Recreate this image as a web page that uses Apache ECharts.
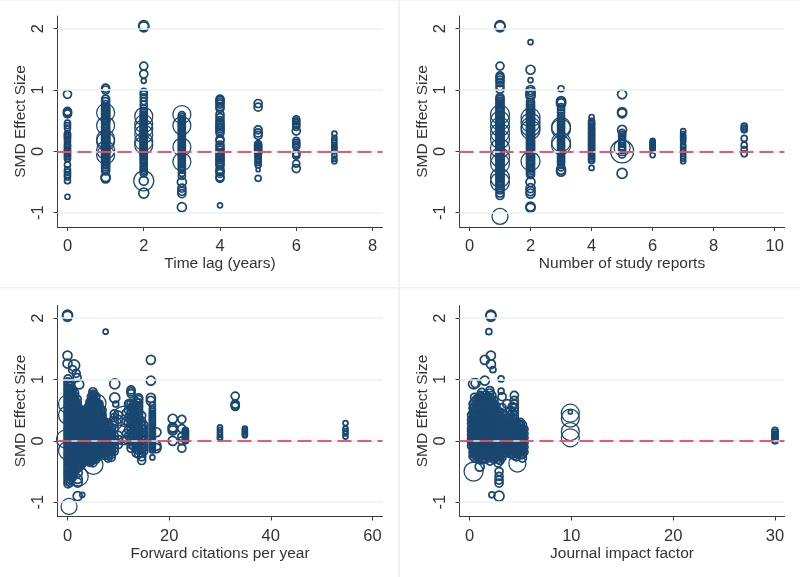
<!DOCTYPE html>
<html><head><meta charset="utf-8">
<style>html,body{margin:0;padding:0;background:#fff}#c{width:800px;height:577px}</style>
<script src="https://cdn.jsdelivr.net/npm/echarts@6/dist/echarts.min.js"></script>
</head><body><div id="c"></div>
<script>
// each row: [x value, study weight, [effect sizes]]
const lagColumns = [
[0,5,[-.74]],[0,6,[-.48,-.42,-.38,-.34,-.3,-.22,-.12,-.09,-.06,-.03,0,.03,.06,.09,.11,.16,.2,.23,.25,.27,.29,.38,.42,.46]],[0,8,[.93,.65,.63,.61]],
[1,8,[1.03,1.0,.85,.81,.76,-.32,-.28,-.25,-.22,-.2,-.17,-.15,-.13,-.11,-.09,-.07,-.05,-.04,-.02,0,.02,.03,.05,.07,.08,.1,.12,.13,.15,.16,.18,.2,.21,.23,.25,.26,.28,.3,.33,.36,.39,.42,.45,.48,.5,.52,.55,.58,.6,.62,.64,.66,.68,.7,.72]],[1,9,[-.42,-.44]],[1,18,[.63,.42,.2,.16,.02,-.06]],
[2,10,[2.05,2.03,-.68]],[2,8,[1.39,1.26]],[2,5,[1.15]],[2,7,[.97,.93,.88,.82,.76,.7,-.36,-.33,-.3,-.27,-.24,-.2,-.17,-.14,-.12,-.09,-.07,-.05,-.03,-.01,.01,.03,.05,.06,.08,.1,.12,.13,.15,.17,.18,.2,.22,.23,.25,.27,.28,.3,.32,.33,.35,.37,.39,.4,.42,.44,.46,.48,.5,.52,.54,.56,.58,.6,.63,.66]],[2,18,[.57,.45,.37,.28,.16,.1]],[2,9,[-.48]],[2,20,[-.48]],
[3,9,[-.91,-.5]],[3,8,[-.6,-.65,-.69]],[3,7,[-.4,-.35,-.3,-.27,-.24,-.21,-.18,-.15,-.12,-.1,-.07,-.05,-.02,0,.02,.05,.07,.1,.12,.14,.17,.19,.21,.24,.26,.28,.31,.33,.35,.38,.4,.42,.44,.47,.5,.53,.56,.59]],[3,18,[.6,.42,.07,-.17]],
[4,5,[-.88]],[4,8,[.85,.83,.8,.77,.73,.7,.6,.55,.5,.46,.43,.4,.37,.34,.3,.2,.17,.1,.06,.02,-.02,-.05,-.08,-.11,-.14,-.17,-.2,-.23,-.3,-.33,-.36,-.42,-.44]],
[5,8,[.78,.72,.35,.3,.26]],[5,7,[.12,.1,.08,.06,.04,.02,0,-.03]],[5,6,[-.06,-.09,-.12,-.15,-.18,-.22,-.44]],[5,4,[-.3]],
[6,7,[.52,.49,.46,.43,.4,.17,.14,.11,.08,-.03,-.05,-.07,-.2]],[6,8,[.33,-.28]],
[7,5,[.29,.22,.18,.14,.1,.07,.04,0,-.06,-.12,-.16]]
];
const reportColumns = [
[1,10,[2.05,2.03]],[1,8,[1.39,1.23,1.2,1.16,1.12,1.06,1.01,-.68,-.72]],[1,16,[-1.06]],
[1,8,[.88,.85,.82,.79,.76,.73,.7,.68,.65,.63,.6,.58,.56,.53,.5,.48,.46,.44,.41,.39,.37,.35,.32,.3,.28,.26,.24,.21,.19,.17,.15,.13,.1,.08,.06,.04,.02,0,-.02,-.04,-.06,-.09,-.11,-.13,-.15,-.18,-.2,-.22,-.25,-.27,-.3,-.33,-.36,-.38,-.41,-.44,-.47,-.5,-.53,-.56,-.6,-.63]],
[1,19,[.6,.5,.4,.3,.2,.05,-.1,-.2,-.43,-.5]],
[2,5,[1.78,1.16]],[2,9,[1.33,1.0,.97,.93,.9,-.5,-.6,-.65,-.69,-.9,-.92]],
[2,8,[.8,.76,.73,.7,.67,.64,.62,.59,.57,.54,.52,.49,.47,.44,.42,.39,.37,.34,.32,.29,.27,.25,.22,.2,.17,.15,.12,.1,.07,.05,.03,0,-.03,-.05,-.08,-.1,-.13,-.15,-.18,-.2,-.23,-.26,-.29,-.32,-.35,-.38]],
[2,19,[.55,.47,.4,.35,-.16]],
[3,6,[1.02]],[3,9,[.82,.8,.78,-.3,-.33]],[3,7,[.72,.68,.63,.58,.54,.5,.47,.44,.41,.38,.35,.32,.29,.26,.23,.2,.17,.14,.11,.08,.05,.02,0,-.03,-.06,-.09,-.12,-.15,-.18,-.22,-.26]],[3,19,[.4,.37,.15,.1]],
[4,5,[.56,-.27]],[4,6,[.49,.46,.44,.41,.38,.36,.33,.3,.28,.25,.23,.2,.18,.15,.12,.1,.07,.05,.02,0,-.03,-.06,-.09,-.12,-.15]],
[5,9,[.93,.64,.62,.35]],[5,10,[-.36]],[5,7,[.3,.27,.24,.2,.16,.12,.08,.05,.02,-.05]],[5,16,[.06]],[5,23,[0]],
[6,5,[.17,.15,.13,.11,.09,.07,.05,.03,-.06]],
[7,5,[.33,.28,.24,.22,.19,.16,.1,.07,.03,0,-.04,-.08,-.12,-.16]],
[9,6,[.41,.38,.35,.21,.1,.03,-.04]]
];
const citeColumns = [
[0.1,8,[-.7,-.66,-.61,-.56,-.52,-.47,-.43,-.38,-.33,-.29,-.24,-.2,-.15,-.1,-.06,-.01,.04,.09,.13,.18,.22,.27,.32,.36,.41,.45,.5,.55,.59,.64,.68,.73,.77,.82,.86,.91,.96,1.01]],
[0.5,8,[-.68,-.63,-.58,-.53,-.49,-.44,-.4,-.35,-.31,-.26,-.22,-.17,-.13,-.08,-.03,.02,.07,.11,.16,.2,.25,.3,.34,.39,.43,.48,.52,.57,.61,.66,.71,.75,.8,.84,.89,.94]],
[0.9,8,[-.6,-.55,-.5,-.46,-.41,-.37,-.32,-.27,-.23,-.18,-.14,-.09,-.04,0,.05,.1,.14,.19,.23,.28,.33,.37,.42,.47,.51,.56,.6,.65,.7,.74,.79,.83]],
[1.4,8,[-.52,-.47,-.42,-.38,-.33,-.29,-.24,-.19,-.15,-.1,-.05,-.01,.04,.08,.13,.18,.22,.27,.31,.36,.41,.45,.5,.54,.59,.63,.68,.73,.78]],
[1.15,8,[-.5,-.44,-.36,-.3,-.21,-.16,-.12,-.07,-.02,.03,.06,.12,.17,.21,.25,.3,.35,.4,.44,.49,.53,.58,.62,.67]],
[1.65,8,[-.4,-.34,-.28,-.22,-.16,-.11,-.06,0,.05,.09,.15,.19,.24,.29,.33,.38,.42,.47,.52,.56,.61]],
[1.9,8,[-.45,-.4,-.35,-.31,-.26,-.21,-.17,-.12,-.07,-.03,.02,.07,.11,.16,.2,.25,.3,.34,.39,.43,.48,.53,.57,.62,.68]],
[2.15,8,[-.36,-.3,-.24,-.19,-.13,-.08,-.02,.03,.08,.12,.17,.22,.27,.31,.36,.4,.45,.5]],
[2.4,8,[-.42,-.37,-.32,-.27,-.23,-.18,-.14,-.09,-.05,0,.05,.09,.14,.18,.23,.28,.32,.37,.42,.46,.52]],
[2.65,8,[-.3,-.25,-.2,-.15,-.1,-.04,.01,.06,.1,.15,.2,.25,.3,.34,.39,.43,.48]],
[2.9,8,[-.37,-.32,-.28,-.23,-.19,-.14,-.09,-.05,0,.04,.09,.13,.18,.23,.27,.32,.36,.41,.46]],
[3.15,8,[-.3,-.25,-.21,-.16,-.11,-.07,-.02,.02,.06,.11,.15,.2,.25,.29,.33,.38,.42]],
[3.4,8,[-.33,-.28,-.24,-.19,-.15,-.1,-.06,-.01,.03,.08,.13,.17,.22,.26,.31,.36,.4,.44]],
[3.65,8,[-.27,-.22,-.17,-.13,-.08,-.04,.01,.05,.1,.14,.19,.24,.28,.33,.37,.42,.46]],
[3.9,8,[-.3,-.25,-.2,-.16,-.11,-.07,-.02,.03,.07,.12,.16,.21,.26,.3,.35,.39,.44,.49,.53]],
[4.15,8,[-.31,-.27,-.22,-.18,-.13,-.09,-.04,0,.05,.09,.14,.18,.23,.28,.32,.37,.41,.46,.51,.56]],
[4.4,8,[-.35,-.3,-.25,-.21,-.16,-.12,-.07,-.02,.02,.07,.11,.16,.21,.25,.3,.34,.39,.44,.48,.53,.58,.63]],
[4.7,8,[-.33,-.28,-.23,-.19,-.14,-.1,-.05,0,.04,.08,.13,.18,.22,.27,.31,.36,.41,.45,.5,.55,.6,.66,.72]],
[5,8,[-.36,-.31,-.26,-.22,-.17,-.13,-.08,-.03,.01,.06,.1,.15,.2,.24,.29,.33,.38,.43,.47,.52,.56,.61,.66,.71,.76,.8]],
[5.3,8,[-.28,-.23,-.18,-.14,-.09,-.05,0,.05,.09,.14,.18,.23,.28,.32,.37,.41,.46,.51,.55,.6,.66,.75]],
[5.6,8,[-.3,-.25,-.2,-.16,-.11,-.07,-.02,.03,.07,.12,.16,.21,.26,.3,.35,.39,.44,.49,.53,.58,.63,.72]],
[5.9,8,[-.22,-.18,-.13,-.09,-.04,.01,.05,.1,.14,.19,.24,.28,.33,.37,.42,.47,.51,.56,.61]],
[6.2,8,[-.25,-.2,-.16,-.11,-.06,-.02,.03,.07,.12,.17,.21,.26,.3,.35,.4,.44,.49,.55,.6]],
[6.5,8,[-.15,-.11,-.07,-.03,.02,.06,.11,.16,.2,.25,.29,.34,.39,.45,.52]],
[6.8,8,[-.18,-.13,-.09,-.04,.01,.05,.1,.14,.19,.24,.28,.33,.38,.43,.5]],
[7.4,8,[-.24,-.2,-.15,-.1,-.06,-.01,.04,.08,.13,.17,.22,.27,.31]],
[8,8,[-.28,-.24,-.19,-.14,-.1,-.05,0,.04,.09,.13,.18,.23,.28]],
[8.6,8,[-.27,-.22,-.17,-.13,-.08,-.03,.01,.06,.11,.15,.22]],
[9.2,8,[-.17,-.12,-.07,-.02,.03,.08,.2,.3,.38,.44]],[9.5,6,[.6]],[9.3,10,[.93,.7]],[10,8,[-.06,.02,.09,.35,.42]],
[11.6,8,[.02,.12,.32,.46]],[12,8,[.08,.18,.3,.38,.5,.6]],
[12.5,8,[-.12,-.06,0,.06,.13,.2,.27,.33,.4,.47,.54,.6,.77,.8,.83]],
[13,8,[-.08,-.02,.05,.11,.17,.23,.3,.36,.42,.48,.54,.6]],
[13.5,8,[-.2,-.14,-.08,-.02,.04,.1,.16,.22,.28,.34,.4,.46,.52,.58,.64]],
[14,8,[-.22,-.16,-.1,-.04,.02,.08,.14,.2,.26,.32,.38,.44,.5,.56,.62,.67,.7]],
[14.6,8,[-.32,-.26,-.2,-.13,-.07,0,.06,.12,.19,.25,.32,.41]],[15,8,[-.17,-.11,-.05,.02,.08,.14,.2,.26]],
[16.4,9,[1.32,.98,.7,.65]],[16.7,6,[.58,.52,.48,.45,.42,.39,.36,.33,.3,.27,.24,.21,.18,.15,.12,.09,.06,.03,0,-.03,-.06,-.09,-.12,-.15]],[16.7,5,[-.27]],[17.5,9,[.14,-.08,-.12]],
[0,10,[2.05,2.03]],[0,9,[1.39,1.26]],[1.3,11,[1.23]],[1.0,8,[1.16]],[1.7,8,[1.1]],[1.9,8,[1.03]],[7.5,5,[1.78]],[2.3,9,[.92]],
[0.3,16,[-1.07]],[2,9,[-.9,-.68,-.62,-.52]],[2.9,5,[-.88]],[-.4,18,[.03]],[0,18,[.6,.42]],[0,18,[-.16]],[2.2,19,[-.58]],[5.8,18,[.61]],[5.1,19,[-.39]],[11,20,[.4,.1]],[9.2,14,[.28]],[12.3,10,[.6]],
[20.7,9,[.36,.22,.2,.17,0]],[22.5,8,[.35,.2,.07,0,-.12]],[23.2,6,[.17,.15,.13,.1,.08,.05,.03,0]],
[30,5,[.22,.18,.14,.1,.06,.04]],[33,8,[.73,.6,.58,.56]],[34.9,5,[.2,.17,.14,.11,.09]],[54.7,5,[.29,.2,.16,.12,.07]]
];
const impactColumns = [
[0.2,8,[-.08,-.02,.04,.1,.16,.2,.28,.34,.42]],
[0.35,8,[-.25,-.19,-.12,-.05,.01,.07,.13,.19,.25,.31,.37,.45,.53,.6]],
[0.5,8,[-.28,-.22,-.16,-.1,-.04,.02,.08,.14,.2,.26,.32,.38,.44,.5,.56,.64,.71]],
[0.7,8,[-.25,-.19,-.13,-.07,-.01,.05,.11,.17,.23,.29,.35,.41,.47,.53,.6,.68]],
[0.9,8,[-.28,-.22,-.15,-.09,-.03,.03,.09,.15,.21,.27,.33,.39,.45,.51,.57,.63,.7]],
[1.05,8,[-.26,-.2,-.12,-.06,0,.06,.12,.18,.24,.3,.36,.42,.48,.54,.6,.66,.74]],
[1.2,8,[-.31,-.25,-.19,-.13,-.07,-.01,.05,.11,.17,.23,.29,.35,.41,.47,.53,.59,.65,.72,.79]],
[1.4,8,[-.28,-.21,-.15,-.09,-.03,.03,.09,.15,.21,.27,.33,.39,.45,.51,.57,.63,.7]],
[1.6,8,[-.3,-.24,-.18,-.12,-.06,0,.06,.12,.18,.24,.3,.36,.42,.48,.54,.6,.67,.75]],
[1.8,8,[-.27,-.21,-.14,-.08,-.02,.04,.1,.16,.22,.28,.34,.4,.46,.52,.58,.64,.72]],
[2,8,[-.33,-.27,-.21,-.15,-.09,-.03,.03,.09,.15,.21,.27,.33,.39,.45,.51,.57,.63,.7,.78,.82]],
[2.2,8,[-.26,-.19,-.13,-.07,-.01,.05,.11,.17,.23,.29,.35,.41,.47,.53,.59,.66,.74]],
[2.4,8,[-.3,-.24,-.18,-.12,-.06,0,.06,.12,.18,.24,.3,.36,.42,.48,.54,.6,.66]],
[2.6,8,[-.27,-.21,-.15,-.09,-.03,.03,.09,.15,.21,.27,.33,.39,.45,.51,.57]],
[2.8,8,[-.36,-.3,-.24,-.18,-.12,-.06,0,.06,.12,.18,.24,.3,.36,.42,.48]],
[3,8,[-.32,-.26,-.2,-.13,-.07,-.01,.05,.11,.17,.23,.29,.35,.41,.47]],
[3.2,8,[-.27,-.21,-.15,-.09,-.03,.03,.09,.15,.21,.27,.35,.45,.54,.72]],
[3.4,8,[-.2,-.14,-.07,-.01,.05,.11,.17,.23,.3,.36]],
[3.6,8,[-.15,-.09,-.03,.03,.09,.15,.21,.27]],
[3.8,8,[-.18,-.12,-.06,0,.06,.12,.18,.24,.3,.36]],
[4,8,[-.21,-.15,-.09,-.03,.03,.09,.15,.21,.27,.33,.42,.5]],
[4.2,8,[-.22,-.16,-.1,-.04,.02,.08,.14,.2,.26,.32,.38,.46,.56]],
[4.4,8,[-.24,-.18,-.12,-.06,0,.06,.12,.18,.24,.3,.36,.42,.48,.54,.6,.66,.74]],
[4.6,8,[-.26,-.2,-.14,-.07,-.01,.05,.11,.17,.23,.29]],
[4.8,8,[-.2,-.14,-.08,-.02,.04,.1,.16,.22,.28]],
[5,8,[-.23,-.17,-.11,-.05,.01,.07,.13,.19,.25,.3]],
[5.2,8,[-.28,-.22,-.16,-.1,-.04,.02,.08,.14,.2,.26]],
[5.4,7,[-.18,-.1,-.03,.05,.12,.19]],
[2.1,10,[2.05,2.03]],[1.9,6,[1.78]],[2.1,9,[1.39,1.25]],[1.5,9,[1.32,.98]],[2.3,6,[1.16]],[3.1,6,[1.01,.81]],[.4,10,[.93]],[.6,9,[.94]],[2.9,8,[-.5,-.58,-.64,-.69]],[2.2,6,[-.88]],[2.9,10,[-.9]],[3.7,9,[.6]],
[1,9,[-.42]],[.4,19,[-.5]],[4.7,17,[-.37]],[9.9,18,[.45,.37,.15,.05]],[9.9,4,[.47]],
[30,6,[.17,.14,.11,.09,.07,.05,.03,0]]
];
const effectTicks = [-1,0,1,2];
const lagTicks = [0,2,4,6,8];
const reportTicks = [0,2,4,6,8,10];
const citeTicks = [0,20,40,60];
const impactTicks = [0,10,20,30];
const panels = [
 {cols:lagColumns,name:'Time lag (years)',ticks:lagTicks,xr:[-.262,8.262],l:57.5,t:16,h:211},
 {cols:reportColumns,name:'Number of study reports',ticks:reportTicks,xr:[-.327,10.32],l:459.5,t:16,h:211},
 {cols:citeColumns,name:'Forward citations per year',ticks:citeTicks,xr:[-1.97,61.98],l:57.5,t:305.5,h:211},
 {cols:impactColumns,name:'Journal impact factor',ticks:impactTicks,xr:[-.983,30.93],l:459.5,t:305.5,h:211}
];
const ink='#1a476f', axisInk='#3c3c3c', font='"Liberation Sans",Arial,sans-serif';
const grid=[],xAxis=[],yAxis=[],series=[];
panels.forEach((p,i)=>{
  grid.push({left:p.l,top:p.t,width:325,height:p.h});
  const common={axisLine:{onZero:false,lineStyle:{color:axisInk,width:1}},axisTick:{length:4,lineStyle:{color:axisInk,width:1}},splitLine:{show:false},minorTick:{show:false}};
  xAxis.push({...common,gridIndex:i,type:'value',min:p.xr[0],max:p.xr[1],name:p.name,nameLocation:'middle',nameGap:29,
    nameTextStyle:{fontFamily:font,fontSize:15.5,color:'#333'},
    axisTick:{...common.axisTick,customValues:p.ticks},
    axisLabel:{customValues:p.ticks,margin:11,fontFamily:font,fontSize:16.5,color:'#333',showMinLabel:true,showMaxLabel:true}});
  yAxis.push({...common,gridIndex:i,type:'value',min:-1.233,max:2.206,name:'SMD Effect Size',nameLocation:'middle',nameRotate:90,nameGap:29,
    nameTextStyle:{fontFamily:font,fontSize:15.5,color:'#333'},
    axisTick:{...common.axisTick,customValues:effectTicks},
    axisLabel:{customValues:effectTicks,rotate:90,margin:11,fontFamily:font,fontSize:16.5,color:'#333',align:'center',verticalAlign:'bottom'}});
  series.push({type:'line',xAxisIndex:i,yAxisIndex:i,data:[],z:1,silent:true,symbol:'none',
    markLine:{silent:true,symbol:'none',animation:false,label:{show:false},lineStyle:{color:'#eaf2f3',width:1.5,type:'solid'},
      data:effectTicks.map(v=>({yAxis:v}))}});
  series.push({type:'line',xAxisIndex:i,yAxisIndex:i,data:[],z:2,silent:true,symbol:'none',
    markLine:{silent:true,symbol:'none',animation:false,label:{show:false},lineStyle:{color:'#e8283c',width:1.6,type:[14,6]},
      data:[{yAxis:0}]}});
  const pts=[];
  p.cols.forEach(c=>c[2].forEach(y=>pts.push([c[0],y,c[1]])));
  const mk=(data,bw)=>({type:'scatter',xAxisIndex:i,yAxisIndex:i,z:3,silent:true,clip:false,animation:false,data,
    symbolSize:d=>d[2],itemStyle:{color:'rgba(0,0,0,0)',borderColor:ink,borderWidth:bw,opacity:1}});
  series.push(mk(pts.filter(d=>d[2]<14),1.7));
  series.push(mk(pts.filter(d=>d[2]>=14),1.25));
});
const chart=echarts.init(document.getElementById('c'),null,{renderer:'canvas'});
chart.setOption({animation:false,backgroundColor:'#fff',grid,xAxis,yAxis,series,
 graphic:[
  {type:'rect',silent:true,shape:{x:398,y:0,width:2,height:577},style:{fill:'#f1f2f2'}},
  {type:'rect',silent:true,shape:{x:0,y:287,width:800,height:1.5},style:{fill:'#f1f2f2'}},
  {type:'rect',silent:true,shape:{x:0,y:0,width:800,height:1},style:{fill:'#f4f5f5'}}
 ]});
</script></body></html>
